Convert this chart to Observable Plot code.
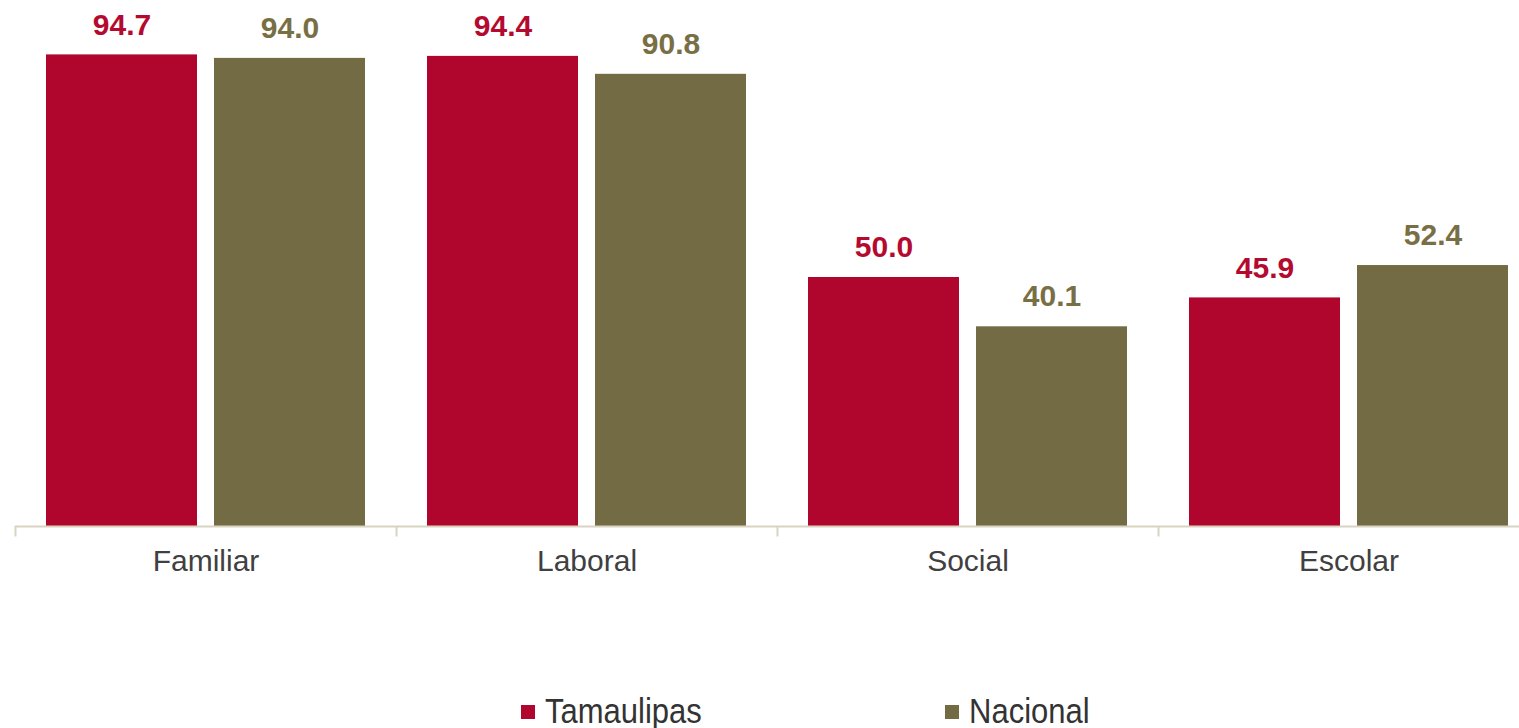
<!DOCTYPE html>
<html>
<head>
<meta charset="utf-8">
<script src="https://cdn.jsdelivr.net/npm/d3@7"></script>
<script src="https://cdn.jsdelivr.net/npm/@observablehq/plot@0.6"></script>
<style>
  html, body { margin: 0; padding: 0; background: #fff; }
  body { width: 1519px; height: 728px; overflow: hidden; font-family: "Liberation Sans", Arial, sans-serif; }
  #legend { position: relative; height: 68px; width: 1519px; }
  .item { position: absolute; top: 35px; font-size: 31px; color: #333; line-height: 34px; display: flex; align-items: center; }
  .item .lbl { display: inline-block; transform: scaleY(1.12); }
  .sw { width: 14px; height: 14px; margin-right: 10px; display: inline-block; }
</style>
</head>
<body>
<div id="chart"></div>
<div id="legend"></div>
<script>
const categories = ["Familiar", "Laboral", "Social", "Escolar"];
const tamaulipas = [94.7, 94.4, 50.0, 45.9];
const nacional = [94.0, 90.8, 40.1, 52.4];
const seriesNames = ["Tamaulipas", "Nacional"];
const colors = ["#B0052C", "#736B43"];

const data = categories.map((c, i) => ({cat: c, tam: tamaulipas[i], nac: nacional[i]}));

const fontFamily = '"Liberation Sans", Arial, sans-serif';
const W = 1519, H = 660;
const bandStart = 15, step = 381;
const chart = Plot.plot({
  width: W,
  height: H,
  marginLeft: 15,
  marginRight: 0,
  marginTop: 28,
  marginBottom: 134,
  style: {fontFamily, background: "#fff", overflow: "visible"},
  x: {type: "band", domain: categories, range: [bandStart, bandStart + step * categories.length], padding: 0, axis: null},
  y: {domain: [0, 100], axis: null},
  marks: [
    Plot.barY(data, {x: "cat", y: "tam", fill: colors[0], insetLeft: 31, insetRight: 199}),
    Plot.barY(data, {x: "cat", y: "nac", fill: colors[1], insetLeft: 199, insetRight: 31}),
    Plot.ruleY([0], {stroke: "#D9D3C1", strokeWidth: 2}),
    Plot.ruleX(categories, {x: d => d, y1: 0, y2: -2.1, dx: -step / 2, stroke: "#D9D3C1", strokeWidth: 2}),
    Plot.text(data, {x: "cat", y: "tam", text: d => d.tam.toFixed(1), dx: -84, dy: -30, fill: "#B50A30", fontSize: 30, fontWeight: "bold"}),
    Plot.text(data, {x: "cat", y: "nac", text: d => d.nac.toFixed(1), dx: 84, dy: -30, fill: "#786F45", fontSize: 30, fontWeight: "bold"}),
    Plot.text(categories, {x: d => d, y: () => 0, text: d => d, dy: 35, fill: "#404040", fontSize: 30})
  ]
});
document.getElementById("chart").appendChild(chart);

const legend = document.getElementById("legend");
const lx = [521, 945];
seriesNames.forEach((n, i) => {
  const it = document.createElement("div");
  it.className = "item";
  it.style.left = lx[i] + "px";
  it.innerHTML = `<span class="sw" style="background:${colors[i]}"></span><span class="lbl">${n}</span>`;
  legend.appendChild(it);
});
</script>
</body>
</html>
